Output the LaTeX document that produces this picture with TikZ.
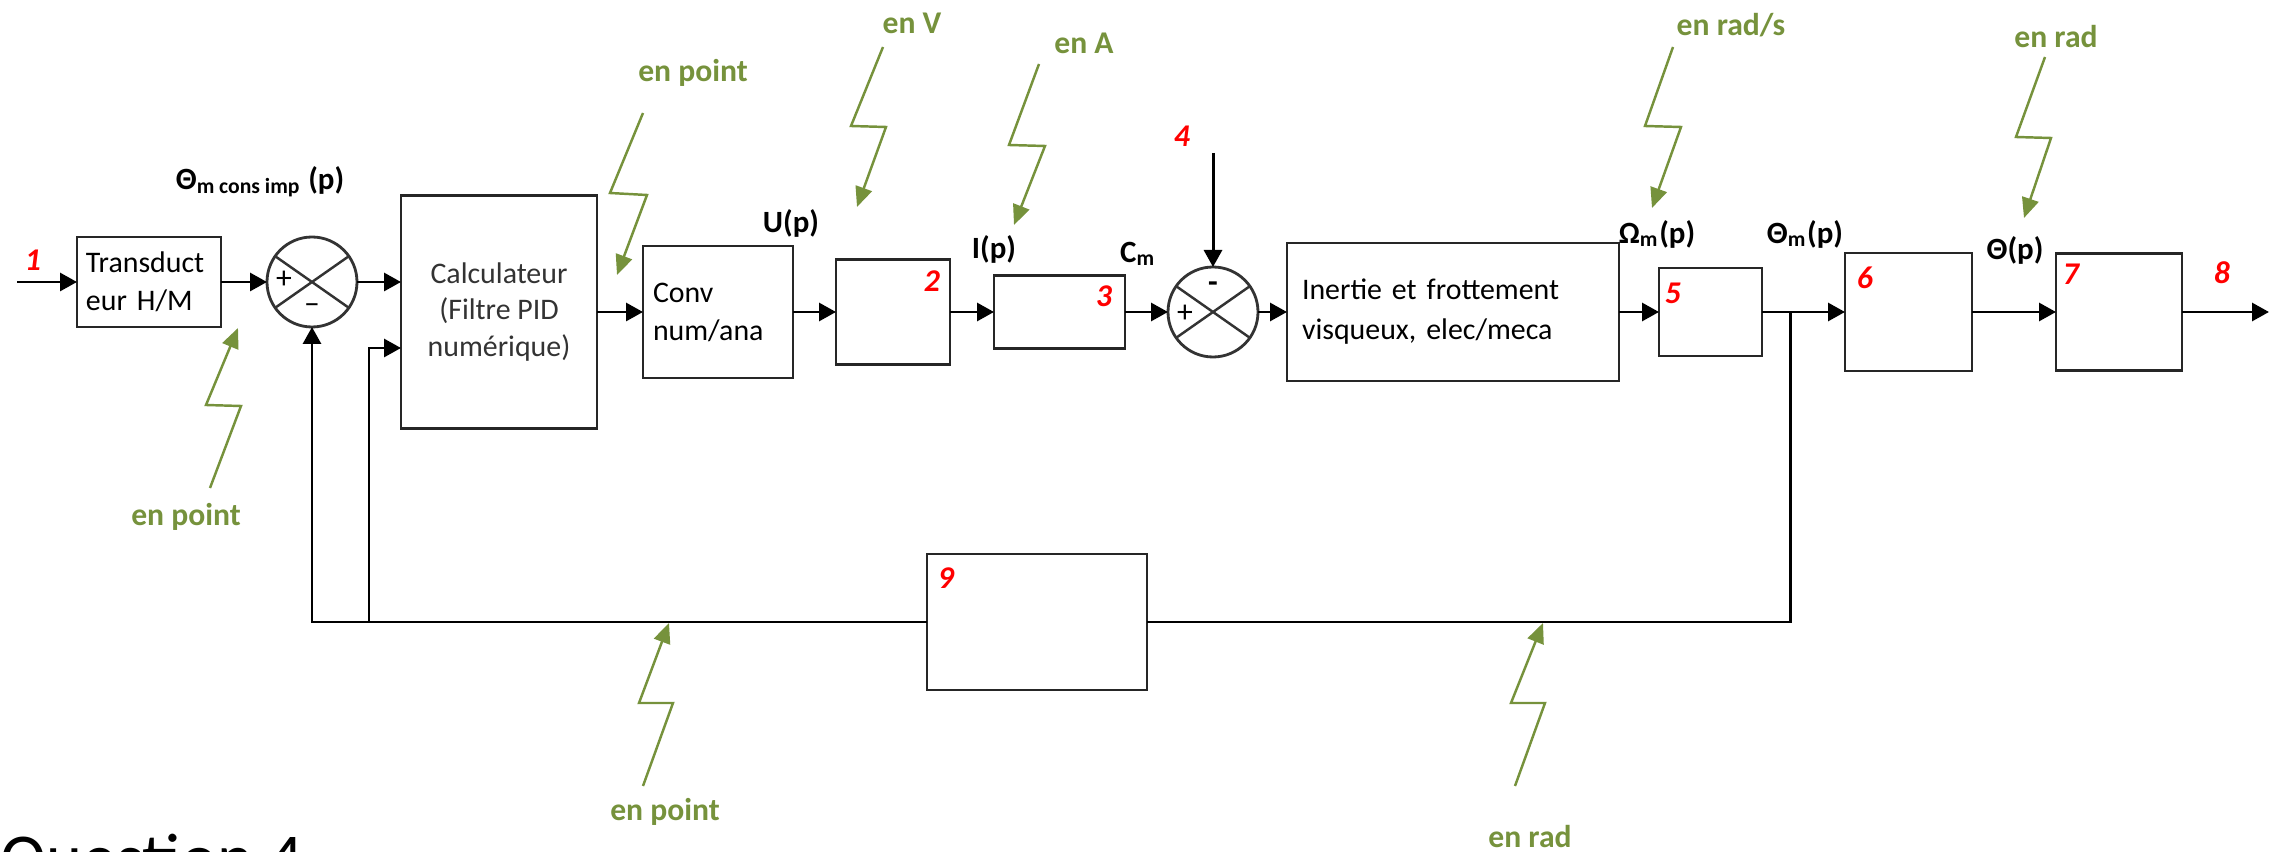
\documentclass[tikz,border=0pt]{standalone}
\usepackage{fontspec}
\setmainfont{Carlito}
\usetikzlibrary{arrows.meta, positioning, calc}
\definecolor{unitgreen}{RGB}{118,146,60}
\definecolor{numred}{RGB}{255,0,0}

\begin{document}
\begin{tikzpicture}[
    box/.style={draw=black!85, line width=0.8pt, inner sep=0pt, outer sep=0pt, align=center, font=\fontsize{8.5}{10.8}\selectfont},
    sum/.style={draw=black!80, circle, minimum size=0.9cm, inner sep=0pt, outer sep=0pt, line width=0.8pt},
    arrow/.style={-{Triangle[length=0.17cm, width=0.18cm]}, line width=0.85pt},
    wire/.style={line width=0.85pt},
    zap/.style={-{Triangle[length=0.2cm, width=0.17cm]}, line width=0.7pt, unitgreen},
    sig/.style={font=\bfseries\fontsize{8.8}{10}\selectfont, inner sep=0pt},
    num/.style={text=numred, font=\bfseries\itshape\fontsize{9}{10}\selectfont, inner sep=0pt},
    unit/.style={text=unitgreen, font=\bfseries\fontsize{9}{10}\selectfont, inner sep=0pt},
    sign/.style={font=\fontsize{9}{10}\selectfont, inner sep=0pt},
]
\useasboundingbox (0,0) rectangle (22.82,-8.52);
\clip (0,0) rectangle (22.82,-8.52);

% forward chain
\node[box, text width=1.26cm, inner xsep=0.09cm, minimum height=0.9cm, align=left] (T) at (1.49,-2.82) {Transduct\\eur H/M};
\node[sum, right=0.46cm of T] (S1) {};
\node[box, right=0.44cm of S1, yshift=-0.30cm, minimum width=1.96cm, minimum height=2.33cm, text=black!80, font=\fontsize{8.5}{10.5}\selectfont] (C) {Calculateur\\(Filtre PID\\numérique)};
\node[box, right=0.46cm of C, text width=1.30cm, inner xsep=0.1cm, minimum height=1.32cm, align=left] (Conv) {Conv\\num/ana};
\node[box, right=0.43cm of Conv, minimum width=1.14cm, minimum height=1.05cm] (B2) {};
\node[box, right=0.44cm of B2, minimum width=1.31cm, minimum height=0.73cm] (B3) {};
\node[sum, right=0.43cm of B3] (S2) {};
\node[box, right=0.29cm of S2, text width=3.02cm, inner xsep=0.15cm, minimum height=1.38cm, align=left, font=\fontsize{8.5}{11.4}\selectfont] (In) {Inertie et frottement\\visqueux, elec/meca};
\node[box, right=0.40cm of In, minimum width=1.03cm, minimum height=0.88cm] (B5) {};
\node[box, right=0.83cm of B5, minimum width=1.27cm, minimum height=1.18cm] (B6) {};
\node[box, right=0.84cm of B6, minimum width=1.26cm, minimum height=1.17cm] (B7) {};
\node[box, minimum width=2.20cm, minimum height=1.36cm] (B9) at (10.37,-6.22) {};

\coordinate[left=0.60cm of T] (in);
\coordinate[right=0.87cm of B7] (out);
\coordinate[above=1.14cm of S2] (d);
\coordinate (br) at ($(B5.east)!0.34!(B6.west)$);
\coordinate (tap) at ($(S1.south |- B9.west)+(0.57,0)$);

% comparators
\foreach \s in {S1,S2} {
  \draw[line width=0.7pt, black!80] (\s.145) -- (\s.-35) (\s.35) -- (\s.215);
}
\node[sign] (S1p) at ($(S1)+(-0.28,0.02)$) {+};
\node[sign] (S1m) at ($(S1)+(0,-0.27)$) {--};
\node[sign] (S2p) at ($(S2)+(-0.28,-0.02)$) {+};
\node[sign, font=\bfseries\fontsize{9}{10}\selectfont] (S2m) at ($(S2)+(0,0.25)$) {-};

\draw[arrow] (in) -- (T);
\draw[arrow] (T) -- (S1);
\draw[arrow] (S1) -- (S1 -| C.west);
\draw[arrow] (C) -- (Conv);
\draw[arrow] (Conv) -- (B2);
\draw[arrow] (B2) -- (B3);
\draw[arrow] (B3) -- (S2);
\draw[arrow] (S2) -- (In);
\draw[arrow] (In) -- (B5);
\draw[arrow] (B5) -- (B6);
\draw[arrow] (B6) -- (B7);
\draw[arrow] (B7) -- (out);
\draw[arrow] (d) -- (S2);

% feedback
\draw[wire] (br) |- (B9);
\draw[arrow] (B9) -| (S1);
\draw[arrow] (tap) |- ($(C.west)+(0,-0.36)$);

% signals
\node[sig] (lTh) at ($(S1.north)+(-0.52,0.55)$) {Θ\textsubscript{m cons imp} (p)};
\node[sig] (lU) at ($(Conv.north east)+(-0.02,0.23)$) {U(p)};
\node[sig] (lI) at ($(B3.north west)+(0,0.265)$) {I(p)};
\node[sig] (lC) at ($(B3.north east)+(0.13,0.215)$) {C\textsubscript{m}};
\node[sig] (lW) at ($(B5.north west)+(-0.02,0.34)$) {Ω\textsubscript{m}(p)};
\node[sig] (lM) at ($(B6.north west)+(-0.40,0.19)$) {Θ\textsubscript{m}(p)};
\node[sig] (lT) at ($(B7.north west)+(-0.41,0.03)$) {Θ(p)};

% block numbers
\node[num] (n1) at ($(T.west)+(-0.44,0.22)$) {1};
\node[num] (n2) at ($(B2.north east)+(-0.18,-0.22)$) {2};
\node[num] (n3) at ($(B3.north east)+(-0.21,-0.21)$) {3};
\node[num] (n4) at ($(d)+(-0.31,0.17)$) {4};
\node[num] (n5) at ($(B5.north west)+(0.14,-0.25)$) {5};
\node[num] (n6) at ($(B6.north west)+(0.20,-0.25)$) {6};
\node[num] (n7) at ($(B7.north west)+(0.15,-0.21)$) {7};
\node[num] (n8) at ($(B7.north east)+(0.40,-0.19)$) {8};
\node[num] (n9) at ($(B9.north west)+(0.19,-0.24)$) {9};

% units
\node[unit] (gP1) at (6.93,-0.73) {en point};
\node[unit] (gV) at (9.12,-0.23) {en V};
\node[unit] (gA) at (10.84,-0.43) {en A};
\node[unit] (gW) at (17.31,-0.25) {en rad/s};
\node[unit] (gR) at (20.56,-0.37) {en rad};
\node[unit] (gL) at (1.86,-5.17) {en point};
\node[unit] (gB) at (6.65,-8.12) {en point};
\node[unit] (gQ) at (15.30,-8.37) {en rad};

\coordinate (hP1) at (6.17,-2.75);
\coordinate (hV) at (8.57,-2.07);
\coordinate (hA) at (10.14,-2.25);
\coordinate (hW) at (16.52,-2.08);
\coordinate (hR) at (20.24,-2.18);
\coordinate (hL) at (2.38,-3.28);
\coordinate (hB) at (6.69,-6.23);
\coordinate (hQ) at (15.43,-6.23);

\draw[zap] ($(gP1)+(-0.50,-0.40)$) -- ++(-0.33,-0.80) -- ++(0.37,-0.02) -- (hP1);
\draw[zap] ($(gV)+(-0.29,-0.24)$) -- ++(-0.32,-0.79) -- ++(0.35,-0.01) -- (hV);
\draw[zap] ($(gA)+(-0.45,-0.21)$) -- ++(-0.30,-0.81) -- ++(0.36,-0.01) -- (hA);
\draw[zap] ($(gW)+(-0.58,-0.22)$) -- ++(-0.28,-0.79) -- ++(0.36,-0.01) -- (hW);
\draw[zap] ($(gR)+(-0.11,-0.20)$) -- ++(-0.29,-0.80) -- ++(0.35,-0.01) -- (hR);
\draw[zap] ($(gL)+(0.24,0.29)$) -- ++(0.31,0.82) -- ++(-0.35,0.01) -- (hL);
\draw[zap] ($(gB)+(-0.22,0.26)$) -- ++(0.30,0.83) -- ++(-0.34,0) -- (hB);
\draw[zap] ($(gQ)+(-0.15,0.51)$) -- ++(0.30,0.83) -- ++(-0.34,0) -- (hQ);

\node[anchor=base west, inner sep=0pt, font=\fontsize{19.5}{22}\selectfont] (q4) at (0,-8.82) {Question 4};
\end{tikzpicture}
\end{document}
